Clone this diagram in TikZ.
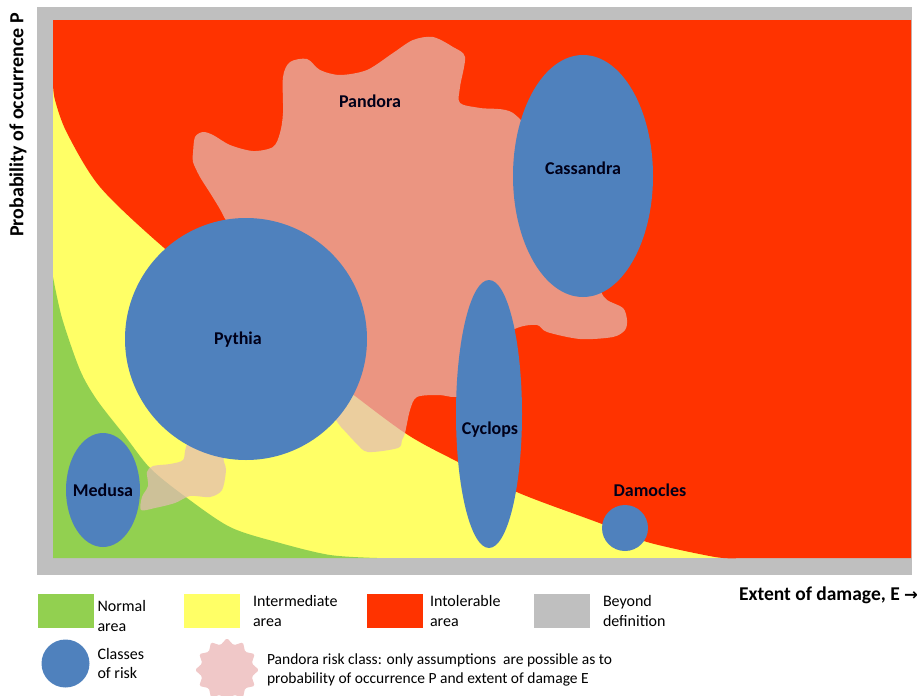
\documentclass[tikz,border=0pt]{standalone}
\usepackage{fontspec}
\setmainfont{Carlito}
\newfontfamily\arrowfont{DejaVu Sans}
\usetikzlibrary{shapes.geometric,positioning}

\definecolor{intolerable}{RGB}{255,51,0}
\definecolor{intermediate}{RGB}{255,255,102}
\definecolor{normal}{RGB}{146,208,80}
\definecolor{beyond}{RGB}{191,191,191}
\definecolor{riskblue}{RGB}{79,129,189}
\definecolor{pandorafill}{RGB}{228,188,180}
\definecolor{pandorakey}{RGB}{240,200,200}

\begin{document}
\begin{tikzpicture}[x=1pt,y=-1pt,every node/.style={outer sep=0pt},
		risk/.style={ellipse,fill=riskblue,draw=none,inner sep=0pt},
		riskname/.style={font=\fontsize{18}{20}\selectfont\bfseries,text=black!90!blue},
		keybox/.style={draw=none,minimum width=56pt,minimum height=34pt,inner sep=0pt},
		keytext/.style={align=left,inner sep=0pt,font=\fontsize{16}{19.5}\selectfont},
		axisname/.style={inner sep=0pt,font=\fontsize{20}{24}\selectfont\bfseries}]

	\useasboundingbox (0,0) rectangle (922,696);

	% frame and the three areas
	\fill[beyond] (37,7) rectangle (912,575);
	\fill[intermediate] (53,20) rectangle (911,558);
	\fill[intolerable] (53,20) -- (911,20) -- (911,558) -- plot[smooth] coordinates
		{(740,558) (715,557) (647,542) (602,524) (519,493) (458,462) (405,433)
		 (330,377) (250,318) (163,247) (100,187) (67,133) (55,100) (53,83)} -- cycle;
	\fill[normal] (53,558) -- plot[smooth] coordinates
		{(53,277) (62,318) (80,370) (97,400) (125,436) (150,468) (183,495)
		 (230,527) (280,543) (330,555) (377,558)} -- cycle;

	% Pandora
	\fill[pandorafill,fill opacity=0.72] plot[smooth cycle,tension=0.5] coordinates
		{(193,153) (195,137) (203,132) (213,135) (230,145) (253,151) (273,147)
		 (280,133) (283,113) (283,77) (290,62) (307,59) (320,70) (340,75) (367,70)
		 (393,53) (413,40) (433,37) (453,47) (465,57) (460,87) (460,103) (480,108)
		 (513,113) (540,150) (580,250) (600,290) (607,300) (623,308) (627,320)
		 (625,330) (613,337) (580,339) (547,332) (537,325) (517,328) (490,345)
		 (475,392) (455,397) (439,395) (417,397) (410,410) (405,433) (402,440)
		 (398,448) (368,452) (356,443) (341,427) (330,417) (300,430) (240,445)
		 (224,457) (226,470) (222,490) (210,497) (190,496) (175,503) (155,508)
		 (141,510) (142,497) (148,486) (147,472) (153,466) (170,464) (183,460)
		 (186,447) (200,400) (215,300) (232,240) (223,215) (212,196) (200,177)
		 (193,162)};

	% classes of risk
	\node[risk,minimum width=140pt,minimum height=242pt] (cassandra) at (583,176) {};
	\node[risk,minimum width=242pt,minimum height=242pt] (pythia) at (246,339) {};
	\node[risk,minimum width=66pt,minimum height=268pt] (cyclops) at (489,414) {};
	\node[risk,minimum width=74pt,minimum height=114pt] (medusa) at (103,490) {};
	\node[risk,minimum width=46pt,minimum height=46pt] (damocles) at (625,528) {};

	\node[riskname] (pandoraname) at (370,101) {Pandora};
	\node[riskname] (cassandraname) at (583,168) {Cassandra};
	\node[riskname] (pythianame) at (238,340) {Pythia};
	\node[riskname] (cyclopsname) at (490,430) {Cyclops};
	\node[riskname] (medusaname) at (103,490) {Medusa};
	\node[riskname] (damoclesname) at (650,490) {Damocles};

	% axes
	\node[axisname,rotate=90] (pname) at (18,125) {Probability of occurrence P};
	\node[axisname,anchor=east,font=\fontsize{19.5}{24}\selectfont\bfseries] (ename) at (918,595)
		{Extent of damage, E {\arrowfont\fontsize{16.5}{20}\selectfont →}};

	% legend
	\node[keybox,fill=normal] (keynormal) at (65.5,611) {};
	\node[keytext,right=4pt of keynormal,yshift=-5pt] (txtnormal) {Normal\\area};
	\node[keybox,fill=intermediate] (keyintermediate) at (212,611) {};
	\node[keytext,right=13pt of keyintermediate] (txtintermediate) {Intermediate\\area};
	\node[keybox,fill=intolerable] (keyintolerable) at (395,611) {};
	\node[keytext,right=7pt of keyintolerable] (txtintolerable) {Intolerable\\area};
	\node[keybox,fill=beyond] (keybeyond) at (562,611) {};
	\node[keytext,right=13pt of keybeyond] (txtbeyond) {Beyond\\definition};

	\node[risk,minimum width=48pt,minimum height=48pt] (keyrisk) at (65.5,663.5) {};
	\node[keytext,right=8pt of keyrisk] (txtrisk) {Classes\\of risk};
	\node[star,star points=12,star point ratio=1.25,fill=pandorakey,draw=none,
		rounded corners=1.5pt,minimum size=64pt,inner sep=0pt] (keypandora) at (227,670) {};
	\node[keytext,font=\fontsize{15.5}{19}\selectfont,right=8pt of keypandora] (txtpandora)
		{Pandora risk class: only assumptions~ are possible as to\\probability of occurrence P and extent of damage E};

\end{tikzpicture}
\end{document}
